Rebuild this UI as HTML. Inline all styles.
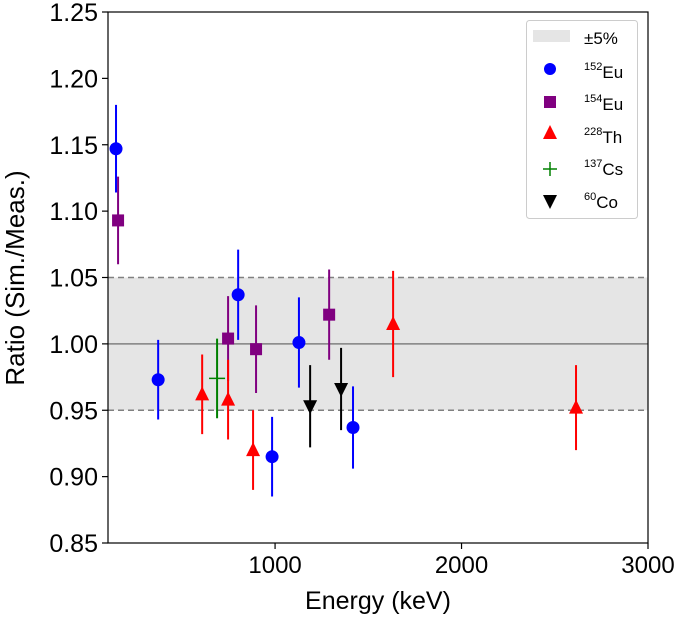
<!DOCTYPE html>
<html><head><meta charset="utf-8"><style>
body{margin:0;background:#fff}
svg text{font-family:"Liberation Sans","DejaVu Sans",sans-serif;fill:#000}
</style></head><body>
<svg id="c" width="685" height="617" xmlns="http://www.w3.org/2000/svg"></svg>
<script>
const yTicks=[0.85,0.90,0.95,1.00,1.05,1.10,1.15,1.20,1.25];
const yTickLabels=["0.85","0.90","0.95","1.00","1.05","1.10","1.15","1.20","1.25"];
const xTicks=[1000,2000,3000];
const xTickLabels=["1000","2000","3000"];
const eu152E=[147,373,802,984,1128,1418];
const eu152R=[1.147,0.973,1.037,0.915,1.001,0.937];
const eu152Err=[0.033,0.030,0.034,0.030,0.034,0.031];
const eu154E=[158,748,898,1290];
const eu154R=[1.093,1.004,0.996,1.022];
const eu154Err=[0.033,0.032,0.033,0.034];
const th228E=[609,748,882,1633,2614];
const th228R=[0.962,0.958,0.920,1.015,0.952];
const th228Err=[0.030,0.030,0.030,0.040,0.032];
const cs137E=[689];
const cs137R=[0.974];
const cs137Err=[0.030];
const co60E=[1188,1354];
const co60R=[0.953,0.966];
const co60Err=[0.031,0.031];

const L=108,R=648,T=12,B=543,xmin=104,xmax=3000,ymin=0.85,ymax=1.25;
const X=e=>L+(e-xmin)/(xmax-xmin)*(R-L);
const Y=v=>B-(v-ymin)/(ymax-ymin)*(B-T);
const svg=document.getElementById('c');
const NS='http://www.w3.org/2000/svg';
function mk(tag,at,parent){const e=document.createElementNS(NS,tag);for(const k in at)e.setAttribute(k,at[k]);(parent||svg).appendChild(e);return e;}

let band=mk('rect',{x:L,y:Y(1.05),width:R-L,height:Y(0.95)-Y(1.05),fill:'#e5e5e5'});


[1.05,0.95].forEach(v=>{let l=mk('line',{x1:L,x2:R,y1:Y(v),y2:Y(v),stroke:'#808080','stroke-width':1.5,'stroke-dasharray':'6,4'});

});
let ul=mk('line',{x1:L,x2:R,y1:Y(1),y2:Y(1),stroke:'#808080','stroke-width':1.5});



function series(E,Rv,Er,color,marker,name){
 const g=mk('g',{});
 
 
 E.forEach((e,i)=>{
  const x=X(e),y=Y(Rv[i]);
  mk('line',{x1:x,x2:x,y1:Y(Rv[i]+Er[i]),y2:Y(Rv[i]-Er[i]),stroke:color,'stroke-width':2},g);
  let m;
  if(marker==='o')m=mk('circle',{cx:x,cy:y,r:6.5,fill:color},g);
  else if(marker==='s')m=mk('rect',{x:x-6,y:y-6,width:12,height:12,fill:color},g);
  else if(marker==='^')m=mk('polygon',{points:`${x},${y-8} ${x-7},${y+6} ${x+7},${y+6}`,fill:color},g);
  else if(marker==='v')m=mk('polygon',{points:`${x},${y+8} ${x-7},${y-6} ${x+7},${y-6}`,fill:color},g);
  else if(marker==='+')m=mk('path',{d:`M${x-8},${y}H${x+8}`,stroke:color,'stroke-width':1.5},g);
  
  
 });
}
series(eu152E,eu152R,eu152Err,'#0000ff','o','eu152-series');
series(eu154E,eu154R,eu154Err,'#800080','s','eu154-series');
series(th228E,th228R,th228Err,'#ff0000','^','th228-series');
series(cs137E,cs137R,cs137Err,'#008000','+','cs137-series');
series(co60E,co60R,co60Err,'#000000','v','co60-series');

let fr=mk('rect',{x:L,y:T,width:R-L,height:B-T,fill:'none',stroke:'#000','stroke-width':1.2});



yTicks.forEach((v,i)=>{mk('line',{x1:L-6,x2:L,y1:Y(v),y2:Y(v),stroke:'#000','stroke-width':1.2});
 const t=mk('text',{x:L-10,y:Y(v)+9,'text-anchor':'end','font-size':25});t.textContent=yTickLabels[i];
 
 });
xTicks.forEach((v,i)=>{mk('line',{x1:X(v),x2:X(v),y1:B,y2:B+6,stroke:'#000','stroke-width':1.2});
 const t=mk('text',{x:X(v),y:B+30,'text-anchor':'middle','font-size':24});t.textContent=xTickLabels[i];
 
 });
</script>
<svg width="685" height="617" style="position:absolute;left:0;top:0" xmlns="http://www.w3.org/2000/svg">
<text x="378" y="609" text-anchor="middle" font-size="25">Energy (keV)</text>
<text transform="translate(24,278) rotate(-90)" text-anchor="middle" font-size="26">Ratio (Sim./Meas.)</text>
<g>
<rect x="526.5" y="20.5" width="111" height="198" rx="3" fill="#fff" stroke="#ccc"/>
<g><rect x="533" y="30" width="37" height="12" fill="#e5e5e5"/><text x="584" y="44" font-size="17">±5%</text></g>
<g><circle cx="550" cy="69" r="6" fill="#0000ff"/><text x="584" y="78" font-size="17"><tspan font-size="11" dy="-8">152</tspan><tspan dy="8">Eu</tspan></text></g>
<g><rect x="544" y="96" width="12" height="12" fill="#800080"/><text x="584" y="110" font-size="17"><tspan font-size="11" dy="-8">154</tspan><tspan dy="8">Eu</tspan></text></g>
<g><polygon points="550,125 543,139 557,139" fill="#ff0000"/><text x="584" y="143" font-size="17"><tspan font-size="11" dy="-8">228</tspan><tspan dy="8">Th</tspan></text></g>
<g><path d="M543,169H557M550,162V176" stroke="#008000" stroke-width="1.5"/><text x="584" y="175" font-size="17"><tspan font-size="11" dy="-8">137</tspan><tspan dy="8">Cs</tspan></text></g>
<g><polygon points="550,209 543,195 557,195" fill="#000"/><text x="584" y="208" font-size="17"><tspan font-size="11" dy="-8">60</tspan><tspan dy="8">Co</tspan></text></g>
</g>
</svg>
</body></html>
